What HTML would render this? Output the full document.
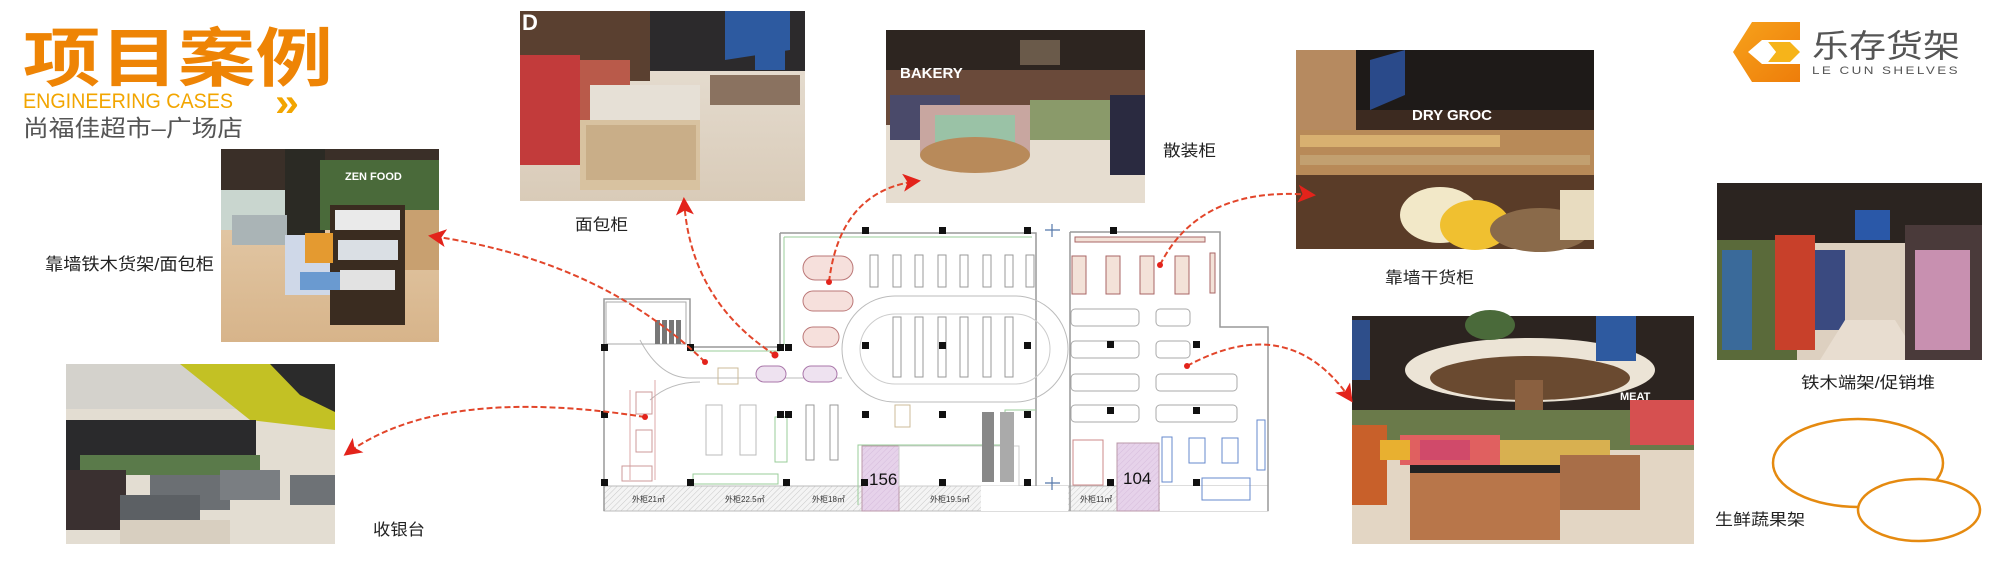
<!DOCTYPE html>
<html><head><meta charset="utf-8"><style>
html,body{margin:0;padding:0;background:#fff;}
svg{display:block;}
text{font-family:"Liberation Sans","Noto Sans CJK SC",sans-serif;}
.cn{font-family:"Liberation Sans","Noto Sans CJK SC",sans-serif;}
</style></head><body>
<svg width="1996" height="567" viewBox="0 0 1996 567" xmlns="http://www.w3.org/2000/svg">
<defs>
<linearGradient id="floor" x1="0" y1="0" x2="0" y2="1"><stop offset="0" stop-color="#e8d2b4"/><stop offset="1" stop-color="#d7b48a"/></linearGradient>
<linearGradient id="floor2" x1="0" y1="0" x2="0" y2="1"><stop offset="0" stop-color="#e9e2d8"/><stop offset="1" stop-color="#d9cbb8"/></linearGradient>
<linearGradient id="logo1" x1="0" y1="0" x2="1" y2="1"><stop offset="0" stop-color="#f7a21b"/><stop offset="1" stop-color="#ee7d0a"/></linearGradient>
<pattern id="hatch" width="4" height="4" patternUnits="userSpaceOnUse" patternTransform="rotate(45)"><rect width="4" height="4" fill="#f4f4f4"/><line x1="0" y1="0" x2="0" y2="4" stroke="#c8c8c8" stroke-width="1"/></pattern>
<pattern id="phatch" width="4" height="4" patternUnits="userSpaceOnUse" patternTransform="rotate(45)"><rect width="4" height="4" fill="#e6d2ea"/><line x1="0" y1="0" x2="0" y2="4" stroke="#d6bcdc" stroke-width="1"/></pattern>
<marker id="ah" viewBox="0 0 12 12" refX="10" refY="6" markerWidth="18" markerHeight="18" markerUnits="userSpaceOnUse" orient="auto"><path d="M0,0 L12,6 L0,12 L3,6 Z" fill="#e3231b"/></marker>
</defs>

<!-- Title -->
<text x="23" y="81" font-size="64" font-weight="bold" fill="#ee8405" textLength="310" lengthAdjust="spacingAndGlyphs" class="cn">项目案例</text>
<text x="23" y="108" font-size="21" fill="#f2a500" textLength="210" lengthAdjust="spacingAndGlyphs">ENGINEERING CASES</text>
<text x="275" y="116" font-size="40" font-weight="bold" fill="#f2a500" textLength="24" lengthAdjust="spacingAndGlyphs">»</text>
<text x="23" y="136" font-size="23" fill="#555" textLength="220" lengthAdjust="spacingAndGlyphs">尚福佳超市–广场店</text>

<!-- Logo -->
<g>
<polygon points="1752,22 1800,22 1800,40 1762,40 1748,52 1762,64 1800,64 1800,82 1752,82 1733,52" fill="url(#logo1)"/>
<polygon points="1768,42 1790,42 1800,52 1790,62 1768,62 1776,52" fill="#f6b41a"/>
<polygon points="1760,52 1768,42 1776,52 1768,62" fill="#fff"/>
<text x="1812" y="57" font-size="32" fill="#555" textLength="148" lengthAdjust="spacingAndGlyphs">乐存货架</text>
<text x="1812" y="74" font-size="11" fill="#555" textLength="148" lengthAdjust="spacingAndGlyphs" letter-spacing="2">LE CUN SHELVES</text>
</g>

<!-- Photo1 frozen food -->
<g>
<rect x="221" y="149" width="218" height="193" fill="url(#floor)"/>
<rect x="221" y="149" width="218" height="50" fill="#3a2f28"/>
<rect x="221" y="190" width="218" height="40" fill="#c9d6cf"/>
<rect x="285" y="149" width="40" height="110" fill="#2b2a24"/>
<rect x="320" y="160" width="119" height="70" fill="#4a6a3a"/>
<text x="345" y="180" font-size="11" font-weight="bold" fill="#fff">ZEN FOOD</text>
<rect x="232" y="215" width="55" height="30" fill="#aab4b6"/>
<rect x="285" y="235" width="45" height="60" fill="#cfd8e8"/>
<rect x="330" y="205" width="75" height="120" fill="#3a2c20"/>
<rect x="335" y="210" width="65" height="20" fill="#eaeaea"/>
<rect x="338" y="240" width="60" height="20" fill="#dadfe4"/>
<rect x="340" y="270" width="55" height="20" fill="#e2e2e2"/>
<rect x="305" y="233" width="28" height="30" fill="#e49a30"/>
<rect x="300" y="272" width="40" height="18" fill="#6a9ad0"/>
<rect x="405" y="210" width="34" height="60" fill="#c8a070"/>
</g>
<text x="45" y="270" font-size="17" fill="#222" textLength="169" lengthAdjust="spacingAndGlyphs">靠墙铁木货架/面包柜</text>

<!-- Photo2 checkout -->
<g>
<rect x="66" y="364" width="269" height="180" fill="#e3ddd2"/>
<rect x="66" y="364" width="269" height="45" fill="#d4d2cc"/>
<polygon points="180,364 335,364 335,430 250,420" fill="#c3c124"/>
<polygon points="270,364 335,364 335,412 300,395" fill="#2b2b2b"/>
<rect x="66" y="420" width="190" height="50" fill="#2a2a2c"/>
<rect x="80" y="455" width="180" height="20" fill="#5a7a4a"/>
<rect x="66" y="470" width="60" height="60" fill="#3a3030"/>
<rect x="150" y="475" width="80" height="35" fill="#6b6f73"/>
<rect x="120" y="495" width="80" height="40" fill="#5c6064"/>
<rect x="220" y="470" width="60" height="30" fill="#7a7e82"/>
<rect x="290" y="475" width="45" height="30" fill="#6e7276"/>
<rect x="120" y="520" width="110" height="24" fill="#d8cfc0"/>
</g>
<text x="373" y="535" font-size="16" fill="#222" textLength="52" lengthAdjust="spacingAndGlyphs">收银台</text>

<!-- Photo3 bread -->
<g>
<rect x="520" y="11" width="285" height="190" fill="url(#floor2)"/>
<rect x="520" y="11" width="285" height="60" fill="#2c2a2c"/>
<rect x="520" y="11" width="130" height="70" fill="#5a4030"/>
<rect x="520" y="55" width="60" height="110" fill="#c23b3b"/>
<rect x="580" y="60" width="50" height="90" fill="#b95a4a"/>
<rect x="590" y="85" width="110" height="45" fill="#e6e0d6"/>
<rect x="580" y="120" width="120" height="70" fill="#d8c2a0"/>
<rect x="586" y="125" width="110" height="55" fill="#c9ae88"/>
<polygon points="725,11 790,11 790,50 725,60" fill="#2d5aa0"/>
<rect x="755" y="40" width="30" height="30" fill="#2d5aa0"/>
<rect x="710" y="75" width="90" height="30" fill="#8a7260"/>
<text x="522" y="30" font-size="22" font-weight="bold" fill="#fff">D</text>
</g>
<text x="575" y="230" font-size="16" fill="#222" textLength="53" lengthAdjust="spacingAndGlyphs">面包柜</text>

<!-- Photo4 bakery -->
<g>
<rect x="886" y="30" width="259" height="173" fill="#e6ddd0"/>
<rect x="886" y="30" width="259" height="55" fill="#2d2520"/>
<rect x="886" y="70" width="259" height="55" fill="#6a4a3a"/>
<text x="900" y="78" font-size="15" font-weight="bold" fill="#fff">BAKERY</text>
<rect x="890" y="95" width="70" height="45" fill="#4a4a6a"/>
<rect x="920" y="105" width="110" height="50" fill="#c8a6a0"/>
<rect x="935" y="115" width="80" height="30" fill="#9ac2a6"/>
<ellipse cx="975" cy="155" rx="55" ry="18" fill="#b88a5a"/>
<rect x="1030" y="100" width="80" height="40" fill="#8a9a6a"/>
<rect x="1110" y="95" width="35" height="80" fill="#2a2a40"/>
<rect x="1020" y="40" width="40" height="25" fill="#6a5a4a"/>
</g>
<text x="1163" y="156" font-size="16" fill="#222" textLength="53" lengthAdjust="spacingAndGlyphs">散装柜</text>

<!-- Photo5 dry grocery -->
<g>
<rect x="1296" y="50" width="298" height="199" fill="#3c2a20"/>
<rect x="1296" y="50" width="298" height="60" fill="#1e1a18"/>
<rect x="1296" y="50" width="60" height="110" fill="#b68a60"/>
<polygon points="1370,60 1405,50 1405,95 1370,110" fill="#2a4a8a"/>
<text x="1412" y="120" font-size="15" font-weight="bold" fill="#fff">DRY GROC</text>
<rect x="1296" y="130" width="298" height="45" fill="#b88a58"/>
<rect x="1300" y="135" width="200" height="12" fill="#d8b070"/>
<rect x="1300" y="155" width="290" height="10" fill="#c2a070"/>
<rect x="1296" y="175" width="298" height="74" fill="#5a3c28"/>
<ellipse cx="1440" cy="215" rx="40" ry="28" fill="#f2e8c8"/>
<ellipse cx="1475" cy="225" rx="35" ry="25" fill="#f0c030"/>
<ellipse cx="1540" cy="230" rx="50" ry="22" fill="#8a6a4a"/>
<rect x="1560" y="190" width="34" height="50" fill="#e8dcc0"/>
</g>
<text x="1385" y="283" font-size="16" fill="#222" textLength="89" lengthAdjust="spacingAndGlyphs">靠墙干货柜</text>

<!-- Photo6 fresh -->
<g>
<rect x="1352" y="316" width="342" height="228" fill="#e3d6c4"/>
<rect x="1352" y="316" width="342" height="110" fill="#2c2420"/>
<ellipse cx="1530" cy="370" rx="125" ry="32" fill="#ece4d6"/>
<ellipse cx="1530" cy="378" rx="100" ry="22" fill="#6a4a30"/>
<rect x="1515" y="380" width="28" height="60" fill="#8a6040"/>
<rect x="1352" y="320" width="18" height="60" fill="#2e4e8a"/>
<rect x="1596" y="316" width="40" height="45" fill="#2e5aa0"/>
<ellipse cx="1490" cy="325" rx="25" ry="15" fill="#4a6a3a"/>
<rect x="1352" y="410" width="342" height="40" fill="#6a7a4a"/>
<rect x="1352" y="425" width="35" height="80" fill="#c8602a"/>
<rect x="1400" y="435" width="100" height="30" fill="#e06060"/>
<rect x="1420" y="440" width="50" height="20" fill="#d04a6a"/>
<rect x="1380" y="440" width="30" height="20" fill="#e8b030"/>
<rect x="1500" y="440" width="110" height="25" fill="#d8b050"/>
<rect x="1630" y="400" width="64" height="45" fill="#d65050"/>
<polygon points="1410,465 1560,465 1560,540 1410,540" fill="#b8764a"/>
<rect x="1410" y="465" width="150" height="8" fill="#222"/>
<rect x="1560" y="455" width="80" height="55" fill="#a86e48"/>
<text x="1620" y="400" font-size="11" font-weight="bold" fill="#fff">MEAT</text>
</g>

<!-- Photo7 -->
<g>
<rect x="1717" y="183" width="265" height="177" fill="#ddd0c0"/>
<rect x="1717" y="183" width="265" height="60" fill="#2b2420"/>
<rect x="1717" y="240" width="80" height="120" fill="#5a6a3a"/>
<rect x="1722" y="250" width="30" height="100" fill="#3a6a9a"/>
<rect x="1775" y="235" width="40" height="115" fill="#c8402a"/>
<rect x="1815" y="250" width="30" height="80" fill="#3a4a80"/>
<polygon points="1845,320 1895,320 1920,360 1820,360" fill="#e8ddd0"/>
<rect x="1905" y="225" width="77" height="135" fill="#4a3a3a"/>
<rect x="1915" y="250" width="55" height="100" fill="#c890b0"/>
<rect x="1855" y="210" width="35" height="30" fill="#2a58a8"/>
</g>
<text x="1801" y="388" font-size="16" fill="#222" textLength="134" lengthAdjust="spacingAndGlyphs">铁木端架/促销堆</text>

<!-- Ellipses -->
<ellipse cx="1858" cy="463" rx="85" ry="44" fill="none" stroke="#e58a10" stroke-width="2.5"/>
<ellipse cx="1919" cy="510" rx="61" ry="31" fill="#fff" stroke="#e58a10" stroke-width="2.5"/>
<text x="1715" y="525" font-size="16" fill="#222" textLength="90" lengthAdjust="spacingAndGlyphs">生鲜蔬果架</text>

<!-- Floor plan -->
<g fill="none" stroke="#aaa" stroke-width="1">
<rect x="604" y="486" width="664" height="25" fill="url(#hatch)" stroke="#bbb"/>
<rect x="862" y="446" width="37" height="65" fill="url(#phatch)" stroke="#b9a"/>
<rect x="1117" y="443" width="42" height="68" fill="url(#phatch)" stroke="#b9a"/>
<rect x="899" y="446" width="120" height="40" fill="#fff" stroke="#ccc"/>
<rect x="981" y="486" width="87" height="25" fill="#fff" stroke="none"/>
<rect x="1160" y="486" width="108" height="25" fill="#fff" stroke="none"/>
<path d="M780,233 L1036,233 L1036,486 M780,233 L780,347 L690,347 L690,299 L604,299 L604,511" stroke="#999" stroke-width="1.5"/>
<path d="M1070,232 L1220,232 L1220,327 L1268,327 L1268,511 M1070,232 L1070,511" stroke="#999" stroke-width="1.5"/>
<path d="M784,237 L1032,237 M784,237 L784,345 M690,351 L780,351" stroke="#9c9"/>
<rect x="842" y="296" width="226" height="106" rx="53" stroke="#bbb"/>
<rect x="860" y="314" width="190" height="70" rx="35" stroke="#ccc"/>
<path d="M640,340 Q660,378 690,378 L842,378 M650,400 Q670,382 700,382" stroke="#bbb"/>
<g stroke="#999">
<rect x="870" y="255" width="8" height="32"/><rect x="893" y="255" width="8" height="32"/><rect x="915" y="255" width="8" height="32"/><rect x="938" y="255" width="8" height="32"/><rect x="960" y="255" width="8" height="32"/><rect x="983" y="255" width="8" height="32"/><rect x="1005" y="255" width="8" height="32"/><rect x="1026" y="255" width="8" height="32"/>
<rect x="893" y="317" width="8" height="60"/><rect x="915" y="317" width="8" height="60"/><rect x="938" y="317" width="8" height="60"/><rect x="960" y="317" width="8" height="60"/><rect x="983" y="317" width="8" height="60"/><rect x="1005" y="317" width="8" height="60"/>
<rect x="806" y="405" width="8" height="55"/><rect x="830" y="405" width="8" height="55"/>
</g>
<g stroke="#b77" fill="#f6e0dc">
<rect x="803" y="256" width="50" height="24" rx="12"/><rect x="803" y="291" width="50" height="20" rx="10"/><rect x="803" y="327" width="36" height="20" rx="10"/>
</g>
<g stroke="#a7a" fill="#eee2f0"><rect x="756" y="366" width="30" height="16" rx="8"/><rect x="803" y="366" width="34" height="16" rx="8"/></g>
<rect x="718" y="368" width="20" height="16" stroke="#cb9"/>
<rect x="606" y="302" width="80" height="42" stroke="#aaa"/>
<g fill="#777" stroke="none"><rect x="655" y="320" width="5" height="24"/><rect x="662" y="320" width="5" height="24"/><rect x="669" y="320" width="5" height="24"/><rect x="676" y="320" width="5" height="24"/></g>
<path d="M630,390 L630,480 M655,380 L655,480" stroke="#daa"/>
<g stroke="#c99"><rect x="636" y="392" width="16" height="22"/><rect x="636" y="430" width="16" height="22"/><rect x="622" y="466" width="30" height="15"/></g>
<g stroke="#bbb"><rect x="706" y="405" width="16" height="50"/><rect x="740" y="405" width="16" height="50"/></g>
<g stroke="#9c9"><rect x="693" y="474" width="85" height="10"/><rect x="775" y="417" width="12" height="45"/><path d="M858,505 L858,445 L1005,445 L1005,410 L1036,410"/></g>
<rect x="895" y="405" width="15" height="22" stroke="#cb9"/>
<g fill="#888" stroke="none"><rect x="982" y="412" width="12" height="70"/><rect x="1000" y="412" width="14" height="70" fill="#aaa"/></g>
<g stroke="#a66" fill="#f3e2d8"><rect x="1075" y="237" width="130" height="5"/><rect x="1072" y="256" width="14" height="38"/><rect x="1106" y="256" width="14" height="38"/><rect x="1140" y="256" width="14" height="38"/><rect x="1175" y="256" width="14" height="38"/><rect x="1210" y="253" width="5" height="40"/></g>
<g stroke="#aaa"><rect x="1071" y="309" width="68" height="17" rx="4"/><rect x="1156" y="309" width="34" height="17" rx="4"/><rect x="1071" y="341" width="68" height="17" rx="4"/><rect x="1156" y="341" width="34" height="17" rx="4"/><rect x="1071" y="374" width="68" height="17" rx="4"/><rect x="1156" y="374" width="81" height="17" rx="4"/><rect x="1071" y="405" width="68" height="17" rx="4"/><rect x="1156" y="405" width="81" height="17" rx="4"/></g>
<g stroke="#68c"><rect x="1162" y="437" width="10" height="45"/><rect x="1189" y="438" width="16" height="25"/><rect x="1222" y="438" width="16" height="25"/><rect x="1202" y="478" width="48" height="22"/><rect x="1257" y="420" width="8" height="50"/></g>
<rect x="1073" y="440" width="30" height="45" stroke="#c88"/>
<g fill="#111" stroke="none">
<rect x="601" y="344" width="7" height="7"/><rect x="687" y="344" width="7" height="7"/><rect x="777" y="344" width="7" height="7"/><rect x="785" y="344" width="7" height="7"/>
<rect x="862" y="227" width="7" height="7"/><rect x="939" y="227" width="7" height="7"/><rect x="1024" y="227" width="7" height="7"/><rect x="1110" y="227" width="7" height="7"/>
<rect x="862" y="342" width="7" height="7"/><rect x="939" y="342" width="7" height="7"/><rect x="1024" y="342" width="7" height="7"/>
<rect x="601" y="411" width="7" height="7"/><rect x="777" y="411" width="7" height="7"/><rect x="785" y="411" width="7" height="7"/><rect x="862" y="411" width="7" height="7"/><rect x="939" y="411" width="7" height="7"/><rect x="1024" y="411" width="7" height="7"/>
<rect x="1107" y="341" width="7" height="7"/><rect x="1193" y="341" width="7" height="7"/><rect x="1107" y="407" width="7" height="7"/><rect x="1193" y="407" width="7" height="7"/>
<rect x="601" y="479" width="7" height="7"/><rect x="687" y="479" width="7" height="7"/><rect x="783" y="479" width="7" height="7"/><rect x="861" y="479" width="7" height="7"/><rect x="939" y="479" width="7" height="7"/><rect x="1024" y="479" width="7" height="7"/><rect x="1107" y="479" width="7" height="7"/><rect x="1193" y="479" width="7" height="7"/>
</g>
<path d="M1045,230 L1060,230 M1052,224 L1052,237 M1045,483 L1060,483 M1052,477 L1052,490" stroke="#57a" stroke-width="1.2"/>
<g fill="#333" stroke="none" font-size="8">
<text x="632" y="502">外柜21㎡</text><text x="725" y="502">外柜22.5㎡</text><text x="812" y="502">外柜18㎡</text><text x="930" y="502">外柜19.5㎡</text><text x="1080" y="502">外柜11㎡</text>
</g>
<text x="869" y="485" font-size="17" fill="#111" stroke="none" font-family="Liberation Serif,serif">156</text>
<text x="1123" y="484" font-size="17" fill="#111" stroke="none" font-family="Liberation Serif,serif">104</text>
</g>

<!-- Arrows -->
<g fill="none" stroke="#e2452a" stroke-width="2" stroke-dasharray="6,3">
<path d="M705,362 Q600,260 431,236" marker-end="url(#ah)"/>
<path d="M775,355 Q690,300 684,200" marker-end="url(#ah)"/>
<path d="M829,282 Q840,190 918,181" marker-end="url(#ah)"/>
<path d="M645,417 Q440,385 346,454" marker-end="url(#ah)"/>
<path d="M1160,265 Q1200,185 1313,195" marker-end="url(#ah)"/>
<path d="M1187,366 Q1290,310 1351,400" marker-end="url(#ah)"/>
</g>
<g fill="#e3231b">
<circle cx="705" cy="362" r="3"/><circle cx="775" cy="355" r="3.5"/><circle cx="829" cy="282" r="3"/><circle cx="645" cy="417" r="3"/><circle cx="1160" cy="265" r="3"/><circle cx="1187" cy="366" r="3"/>
</g>
</svg>
</body></html>
